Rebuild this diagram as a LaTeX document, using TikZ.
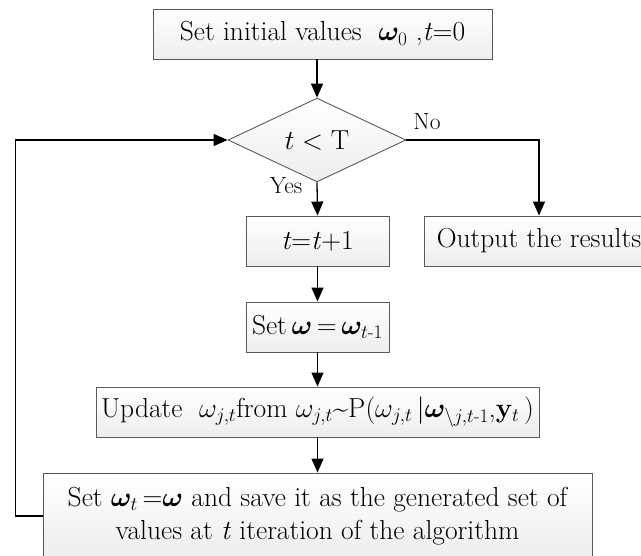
\RequirePackage{fix-cm}
\documentclass[tikz,border=0pt]{standalone}
\usepackage{amsmath,bm}
\usetikzlibrary{shapes.geometric,arrows.meta}
\definecolor{boxgray}{HTML}{5A5A5A}
\newcommand\mfs{\fontsize{27.5}{33}\selectfont}
\newcommand\lfs{\fontsize{23.5}{27}\selectfont}
\begin{document}
\begin{tikzpicture}[x=1pt,y=-1pt,
  box/.style={draw=boxgray, line width=0.9pt, top color=white, bottom color=gray!14,
    minimum height=50pt, inner sep=0pt, font=\mfs, text=black},
  dia/.style={diamond, draw=boxgray, line width=0.9pt, top color=white, bottom color=gray!14,
    inner sep=0pt, font=\mfs},
  arr/.style={draw=black, line width=1.3pt, -{Triangle[length=14pt,width=12pt]}},
  lab/.style={font=\lfs, inner sep=0pt}]
\useasboundingbox (0,0) rectangle (641,556);
\clip (0,0) rectangle (641,556);
\node[box, minimum width=339pt] (init) at (322.5,34) {Set initial values \ $\bm\omega_0$ ,\textit{t}=0};
\node[dia, minimum width=178pt, minimum height=80pt] (cond) at (317,140) {$t<\mathrm{T}$};
\node[box, minimum width=143pt] (inc) at (317.5,241) {\textit{t}=\textit{t}+1};
\node[box, minimum width=230pt] (out) at (539,241) {Output the results};
\node[box, minimum width=143pt] (setw) at (317.5,327) {Set\,$\bm\omega\,{=}\,\bm\omega_{t\text{-}1}$};
\node[box, minimum width=443pt] (upd) at (317.5,412) {Update \ $\omega_{j,t}$from $\omega_{j,t}$\textasciitilde P($\omega_{j,t}\,|\bm\omega_{\backslash j,t\text{-}1}$,$\mathbf{y}_t$\,)};
\node[box, minimum width=549pt, minimum height=86pt, align=center] (fin) at (317.5,516)
  {Set $\bm\omega_t$\,=$\bm\omega$ and save it as the generated set of\\values at \textit{t} iteration of the algorithm};
\coordinate (lx) at (15.7,0);
\draw[arr] (init.south -| cond.north) -- (cond.north);
\draw[arr] (cond.south) -- (inc.north);
\draw[arr] (inc.south) -- (setw.north);
\draw[arr] (setw.south) -- (upd.north);
\draw[arr] (upd.south) -- (fin.north);
\draw[arr] (cond.east) -| (out.north);
\draw[arr] (fin.west) -- (fin.west -| lx) |- (cond.west);
\node[lab] (no) at (427,122) {No};
\node[lab] (yes) at (286,186) {Yes};
\end{tikzpicture}
\end{document}
